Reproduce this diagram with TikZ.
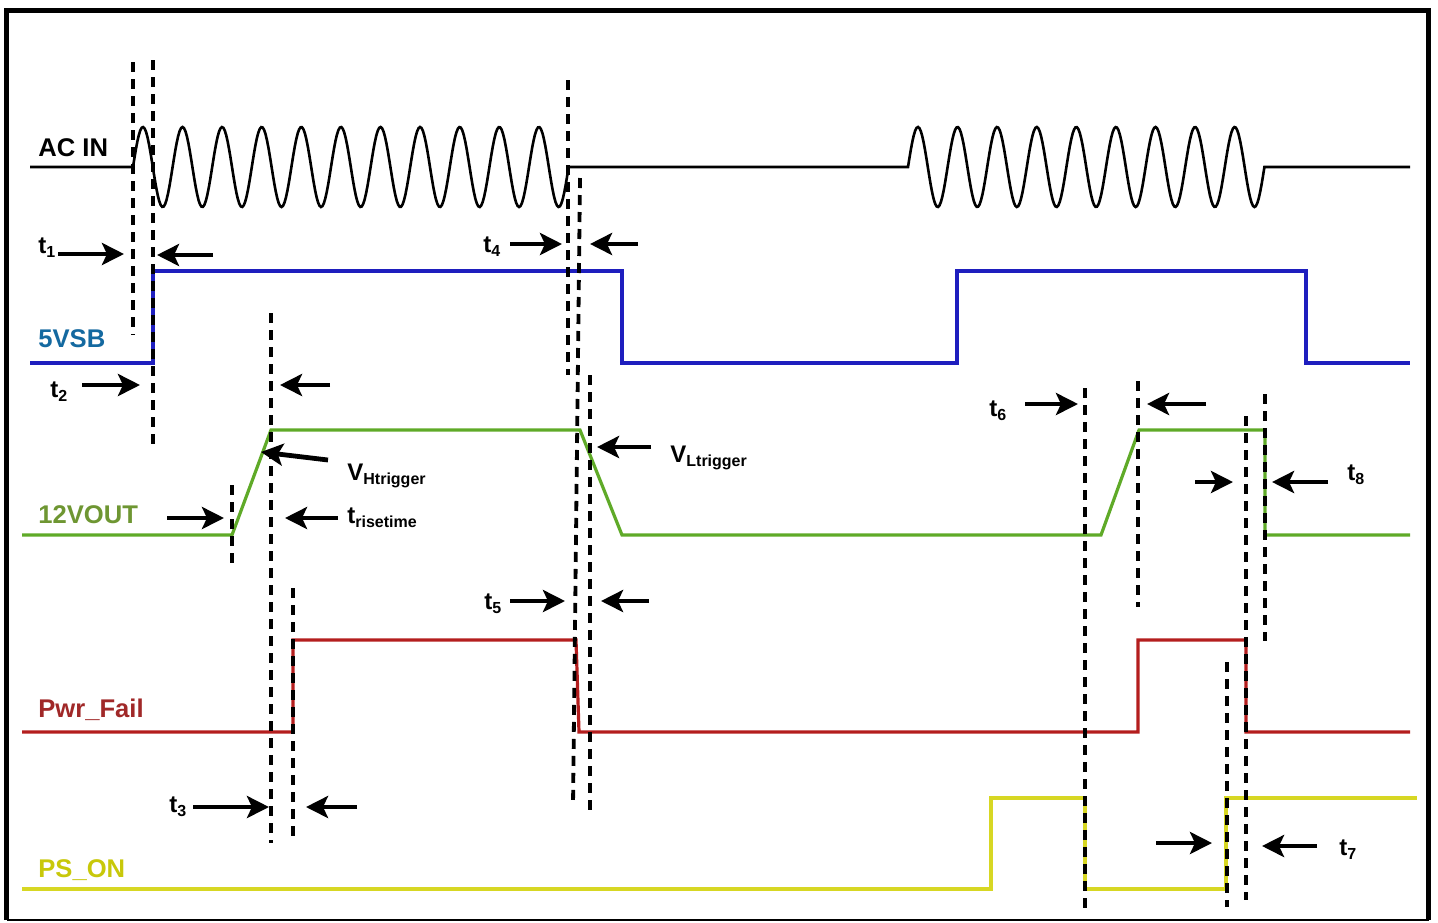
\documentclass[tikz,border=0pt]{standalone}
\usepackage{fontspec}
\setmainfont{Liberation Sans}
\usepackage{xcolor}
\usepackage{tikz}
\usetikzlibrary{arrows.meta}
\definecolor{vsbblue}{RGB}{30,30,190}
\definecolor{vsbtext}{RGB}{20,105,160}
\definecolor{voutgreen}{RGB}{95,170,40}
\definecolor{vouttext}{RGB}{110,150,50}
\definecolor{failred}{RGB}{180,30,30}
\definecolor{failtext}{RGB}{160,40,40}
\definecolor{psonyellow}{RGB}{215,215,35}
\definecolor{psontext}{RGB}{200,200,10}
\newcommand{\tsub}[1]{\raisebox{-2pt}{\fontsize{8}{9}\selectfont #1}}
\tikzset{
  sigline/.style={line width=1.6pt},
  acline/.style={line width=1.3pt, black},
  vsbline/.style={sigline, vsbblue},
  voutline/.style={sigline, voutgreen},
  failline/.style={sigline, failred},
  psonline/.style={sigline, psonyellow},
  dashline/.style={black, line width=1.9pt, dash pattern=on 5pt off 3.5pt},
  arrow/.style={-{Stealth[length=11pt, width=11pt, inset=2.5pt]}, line width=2.4pt, black},
  siglabel/.style={anchor=base west, inner sep=0pt,
                   font=\fontsize{12.8}{15}\selectfont\bfseries},
  timelabel/.style={anchor=base west, inner sep=0pt,
                    font=\fontsize{12}{14}\selectfont\bfseries}
}
\begin{document}
\begin{tikzpicture}[x=0.5pt, y=-0.5pt]

  \useasboundingbox (0,0) rectangle (1438,922);
  \draw[line width=2.6pt] (6.5,920) -- (6.5,10.8) -- (1428.5,10.8) -- (1428.5,920);
  \draw[line width=1.2pt] (6.5,920) -- (1428.5,920);

  \node[siglabel]                  (acin) at (38,156) {AC IN};
  \node[siglabel, text=vsbtext]    (vsb)  at (38,347) {5VSB};
  \node[siglabel, text=vouttext]   (vout) at (38,523) {12VOUT};
  \node[siglabel, text=failtext]   (fail) at (38,717) {Pwr\_Fail};
  \node[siglabel, text=psontext]   (pson) at (38,877) {PS\_ON};

  \draw[acline] (30,167) -- (133,167)
    -- plot[domain=133:568.6, samples=300] (\x,{167-40*sin((\x-133)*9.0909)})
    -- (908,167)
    -- plot[domain=908:1264.4, samples=250] (\x,{167-40*sin((\x-908)*9.0909)})
    -- (1410,167);
  \draw[vsbline] (30,363) -- (153,363) -- (153,271) -- (622,271) -- (622,363)
    -- (957,363) -- (957,271) -- (1306,271) -- (1306,363) -- (1410,363);
  \draw[voutline] (22,535) -- (232,535) -- (271,430) -- (580,430) -- (622,535)
    -- (1101,535) -- (1139,430) -- (1265,430) -- (1265,535) -- (1410,535);
  \draw[failline] (22,732) -- (293,732) -- (293,640) -- (576,640) -- (579,732)
    -- (1138,732) -- (1138,640) -- (1246,640) -- (1246,732) -- (1410,732);
  \draw[psonline] (22,889) -- (991,889) -- (991,798) -- (1085,798) -- (1085,889)
    -- (1226,889) -- (1226,798) -- (1417,798);

  \draw[dashline] (133,62) -- (133,335);
  \draw[dashline] (153,60) -- (153,450);
  \draw[dashline] (232,485) -- (232,567);
  \draw[dashline] (271,313) -- (271,843);
  \draw[dashline] (293,588) -- (293,837);
  \draw[dashline] (568,80) -- (568,375);
  \draw[dashline] (580,178) -- (573,806);
  \draw[dashline] (590,375) -- (590,812);
  \draw[dashline] (1085,388) -- (1085,912);
  \draw[dashline] (1138,381) -- (1138,607);
  \draw[dashline] (1227,662) -- (1227,907);
  \draw[dashline] (1246,416) -- (1246,900);
  \draw[dashline] (1265,394) -- (1265,641);

  \node[timelabel] (t1)    at (38,253)   {t\tsub{1}};
  \node[timelabel] (t2)    at (50,397)   {t\tsub{2}};
  \node[timelabel] (t3)    at (169,812)  {t\tsub{3}};
  \node[timelabel] (t4)    at (483,252)  {t\tsub{4}};
  \node[timelabel] (t5)    at (484,609)  {t\tsub{5}};
  \node[timelabel] (t6)    at (989,416)  {t\tsub{6}};
  \node[timelabel] (t7)    at (1339,855) {t\tsub{7}};
  \node[timelabel] (t8)    at (1347,480) {t\tsub{8}};
  \node[timelabel] (vh)    at (347,480)  {V\tsub{Htrigger}};
  \node[timelabel] (trise) at (347,523)  {t\tsub{risetime}};
  \node[timelabel] (vl)    at (670,462)  {V\tsub{Ltrigger}};

  \draw[arrow] (58,254) -- (124,254);
  \draw[arrow] (213,255) -- (157,255);
  \draw[arrow] (82,385) -- (140,385);
  \draw[arrow] (330,385) -- (280,385);
  \draw[arrow] (510,244) -- (562,244);
  \draw[arrow] (638,244) -- (590,244);
  \draw[arrow] (328,460) -- (261,452);
  \draw[arrow] (167,518) -- (224,518);
  \draw[arrow] (338,518) -- (285,518);
  \draw[arrow] (651,447) -- (597,447);
  \draw[arrow] (510,601) -- (565,601);
  \draw[arrow] (649,601) -- (601,601);
  \draw[arrow] (193,807) -- (269,807);
  \draw[arrow] (357,807) -- (306,807);
  \draw[arrow] (1025,404) -- (1078,404);
  \draw[arrow] (1206,404) -- (1147,404);
  \draw[arrow] (1195,482) -- (1233,482);
  \draw[arrow] (1328,482) -- (1272,482);
  \draw[arrow] (1156,843) -- (1212,843);
  \draw[arrow] (1317,846) -- (1262,846);

\end{tikzpicture}
\end{document}
